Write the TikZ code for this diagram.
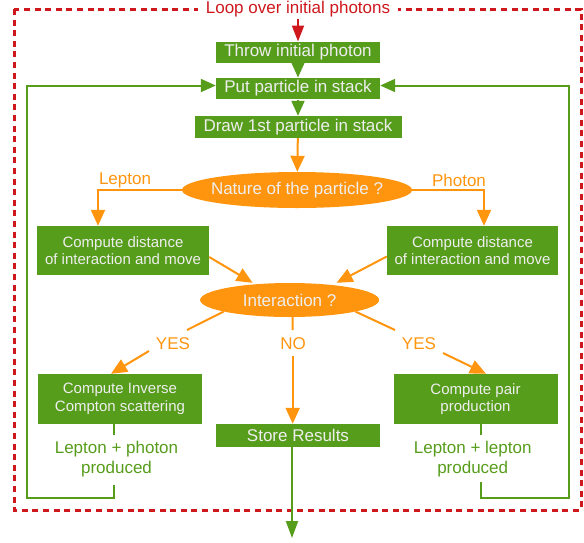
\documentclass[tikz,border=0pt]{standalone}
\usepackage{fontspec}
\setmainfont{Liberation Sans}
\usetikzlibrary{arrows.meta,shapes.geometric,calc}
\definecolor{gr}{HTML}{579D1C}
\definecolor{orng}{HTML}{FF950E}
\definecolor{rd}{HTML}{CE181E}
\definecolor{boxtext}{HTML}{EEEEEE}
\begin{document}
\begin{tikzpicture}[x=1pt,y=1pt,
 big/.style={font=\fontsize{17}{20}\selectfont},
 gbox/.style={rectangle, fill=gr, text=boxtext, inner sep=0pt, big, align=center},
 gsmall/.style={gbox, font=\fontsize{15}{17.5}\selectfont},
 oell/.style={ellipse, fill=orng, inner sep=0pt},
 otext/.style={text=boxtext, big},
 gline/.style={draw=gr, line width=2pt},
 garrow/.style={gline, -{Triangle[length=15pt,width=13pt]}},
 oline/.style={draw=orng, line width=2pt},
 oarrow/.style={oline, -{Triangle[length=16pt,width=14pt]}},
 olabel/.style={text=orng, big},
 glabel/.style={text=gr, big, align=center},
]
\useasboundingbox (0,0) rectangle (584,-542);
% loop frame
\draw[rd, line width=3pt, dash pattern=on 6pt off 4.6pt] (14,-9) rectangle (581,-510);
\node[fill=white, text=rd, inner xsep=8pt, inner ysep=2pt, big] (title) at (298,-9) {Loop over initial photons};

% boxes
\node[gbox, minimum width=164pt, minimum height=21.6pt] (throw) at (298,-52.5) {Throw initial photon};
\node[gbox, minimum width=164pt, minimum height=21.6pt] (put) at (298,-88.5) {Put particle in stack};
\node[gbox, minimum width=207pt, minimum height=22pt] (draw1) at (298,-127) {Draw 1st particle in stack};
\node[oell, minimum width=230pt, minimum height=36pt] (nature) at (297,-190) {};
\node[otext] at (nature) {Nature of the particle ?};
\node[gsmall, minimum width=172pt, minimum height=49pt] (cdl) at (123,-250.5) {Compute distance\\of interaction and move};
\node[gsmall, minimum width=171pt, minimum height=49pt] (cdr) at (472.5,-250.5) {Compute distance\\of interaction and move};
\node[oell, minimum width=179pt, minimum height=34pt] (inter) at (289.6,-300) {};
\node[otext] at (inter) {Interaction ?};
\node[gsmall, minimum width=164pt, minimum height=50pt] (icl) at (120,-399) {Compute Inverse\\Compton scattering};
\node[gsmall, minimum width=164pt, minimum height=50pt] (ppr) at (475.5,-399) {Compute pair\\production};
\node[gbox, minimum width=164pt, minimum height=23pt] (store) at (298,-435.5) {Store Results};
\node[glabel] (prodL) at (116.5,-459) {Lepton + photon\\produced};
\node[glabel] (prodR) at (472.7,-459) {Lepton + lepton\\produced};

% labels
\node[olabel] (lep) at (125,-180) {Lepton};
\node[olabel] (pho) at (459,-180) {Photon};
\node[olabel] (yesl) at (173,-344) {YES};
\node[olabel] (no) at (293,-344) {NO};
\node[olabel] (yesr) at (419,-344) {YES};

% coordinates
\coordinate (yl1) at (187,-330);
\coordinate (yl2) at (149,-351);
\coordinate (no1) at (292.7,-330);
\coordinate (no2) at (292.7,-356);
\coordinate (yr1) at (395,-330);
\coordinate (yr2) at (443,-353);
\coordinate (sl1) at (114,-435);
\coordinate (ll1) at (114,-485);
\coordinate (lc1) at (27,-498);
\coordinate (sr1) at (480.7,-435);
\coordinate (rl1) at (480.7,-482);
\coordinate (rc1) at (569,-498);
\coordinate (out) at (292,-538);

% connectors
\draw[rd, line width=2pt, -{Triangle[length=16pt,width=12pt]}] (title.south) -- (throw.north);
\draw[garrow] (throw) -- (put);
\draw[garrow] (put) -- (draw1);
\draw[oarrow] (draw1) -- (nature);
\draw[oarrow] (nature.west) -| ([xshift=-25pt]cdl.north);
\draw[oarrow] (nature.east) -| ([xshift=11.5pt]cdr.north);
\draw[oarrow] ([yshift=-6.5pt]cdl.east) -- ([xshift=-37pt]inter.north);
\draw[oarrow] ([yshift=-6pt]cdr.west) -- ([xshift=47pt]inter.north);
\draw[oline] (inter.190) -- (yl1);
\draw[oarrow] (yl2) -- ([xshift=-9pt]icl.north);
\draw[oline] ([xshift=3pt]inter.south) -- (no1);
\draw[oarrow] (no2) -- ([xshift=-5.3pt]store.north);
\draw[oline] (inter.350) -- (yr1);
\draw[oarrow] (yr2) -- ([xshift=10.5pt]ppr.north);
\draw[gline] ([xshift=-6pt]icl.south) -- (sl1);
\draw[garrow] (ll1) |- (lc1) |- ([yshift=3pt]put.west);
\draw[gline] ([xshift=5.2pt]ppr.south) -- (sr1);
\draw[garrow] (rl1) |- (rc1) |- ([yshift=3pt]put.east);
\draw[gline, -{Triangle[length=17pt,width=12pt]}] ([xshift=-6pt]store.south) -- (out);
\end{tikzpicture}
\end{document}
